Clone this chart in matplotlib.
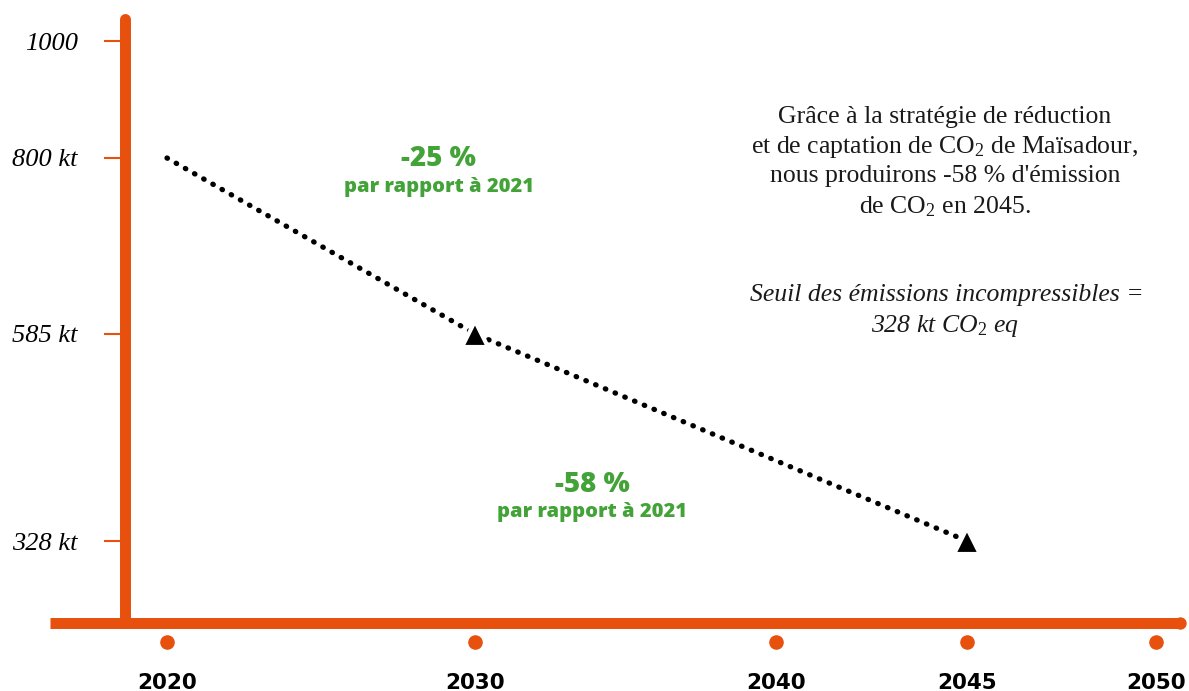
import numpy as np
import matplotlib
matplotlib.use("Agg")
import matplotlib.pyplot as plt

# -----------------------------
# Data
# -----------------------------
years = [2020, 2030, 2045]
emissions = [800, 585, 328]          # kt CO2
marker_years = [2030, 2045]
marker_values = [585, 328]

tick_years = [2020, 2030, 2040, 2045, 2050]
tick_kt = [328, 585, 800, 1000]
tick_kt_labels = ["328 kt", "585 kt", "800 kt", "1000"]

ORANGE = "#E8500E"
GREEN = "#43A338"
W, H = 1189, 691

plt.rcParams["mathtext.fontset"] = "custom"
plt.rcParams["mathtext.rm"] = "Liberation Serif"
plt.rcParams["mathtext.it"] = "Liberation Serif:italic"


# the source axes are not linear, so map values to pixels piecewise
def piecewise(src, dst):
    src = np.asarray(src, float)
    dst = np.asarray(dst, float)
    lo = (dst[1] - dst[0]) / (src[1] - src[0])
    hi = (dst[-1] - dst[-2]) / (src[-1] - src[-2])

    def f(v):
        v = np.asarray(v, float)
        out = np.interp(v, src, dst)
        out = np.where(v < src[0], dst[0] + (v - src[0]) * lo, out)
        out = np.where(v > src[-1], dst[-1] + (v - src[-1]) * hi, out)
        return out
    return f


x_pix = [167, 475, 776, 967, 1156]
y_pix = [H - 541, H - 334, H - 158, H - 41]
x_fwd, x_inv = piecewise(tick_years, x_pix), piecewise(x_pix, tick_years)
y_fwd, y_inv = piecewise(tick_kt, y_pix), piecewise(y_pix, tick_kt)

fig = plt.figure(figsize=(W / 100, H / 100), dpi=100)
left, right, bottom, top = 125, 1180, 623, 19
ax = fig.add_axes([left / W, 1 - bottom / H, (right - left) / W, (bottom - top) / H])
ax.set_xscale("function", functions=(x_fwd, x_inv))
ax.set_yscale("function", functions=(y_fwd, y_inv))
ax.set_xlim(float(x_inv(left)), float(x_inv(right)))
ax.set_ylim(float(y_inv(H - bottom)), float(y_inv(H - top)))

# axes look
for s in ["top", "right", "bottom"]:
    ax.spines[s].set_visible(False)
ax.spines["left"].set_color(ORANGE)
ax.spines["left"].set_linewidth(7.9)
ax.spines["left"].set_capstyle("round")

x0 = (50 - left) / (right - left)
ax.plot([x0, 1], [0, 0], color=ORANGE, lw=7.9, solid_capstyle="butt",
        transform=ax.transAxes, clip_on=False)
ax.plot([1], [0], "o", color=ORANGE, ms=7.9, transform=ax.transAxes, clip_on=False)

# year dots under the axis
dot_y = -(642 - bottom) / (bottom - top)
ax.scatter(tick_years, [dot_y] * len(tick_years), s=90, color=ORANGE,
           transform=ax.get_xaxis_transform(), clip_on=False, zorder=3)

ax.set_xticks(tick_years)
ax.set_xticklabels([str(y) for y in tick_years])
ax.tick_params(axis="x", length=0, pad=36, labelsize=15.5)
for lbl in ax.get_xticklabels():
    lbl.set_fontweight("bold")
    lbl.set_fontfamily("DejaVu Sans")

ax.set_yticks(tick_kt)
ax.set_yticklabels(tick_kt_labels)
ax.yaxis.set_minor_locator(matplotlib.ticker.NullLocator())
ax.xaxis.set_minor_locator(matplotlib.ticker.NullLocator())
ax.tick_params(axis="y", length=15, width=1.5, color=ORANGE, pad=19, labelsize=19)
for lbl in ax.get_yticklabels():
    lbl.set_fontfamily("Liberation Serif")
    lbl.set_fontstyle("italic")

# dotted trajectory and triangles
ax.plot(years, emissions, color="black", lw=3.8, linestyle=(0, (0.1, 1.9)),
        dash_capstyle="round", zorder=2)
ax.plot(marker_years, marker_values, "^", ms=19, color="black",
        mec="white", mew=3, zorder=3)


def ftext(x, y, s, **kw):
    fig.text(x / W, 1 - y / H, s, ha="center", va="center", **kw)


green = dict(color=GREEN, fontweight="heavy", family="Open Sans")
ftext(438, 158, "-25 %", fontsize=20, **green)
ftext(439, 187, "par rapport à 2021", fontsize=14.5, **green)
ftext(592, 484, "-58 %", fontsize=20, **green)
ftext(592, 512, "par rapport à 2021", fontsize=14.5, **green)

serif = dict(family="Liberation Serif", fontsize=18.5, color="#1a1a1a")
ftext(945, 117, "Grâce à la stratégie de réduction", **serif)
ftext(945, 147, "et de captation de CO$_2$ de Maïsadour,", **serif)
ftext(945, 176, "nous produirons -58 % d'émission", **serif)
ftext(945, 207, "de CO$_2$ en 2045.", **serif)
ftext(947, 295, "Seuil des émissions incompressibles =", style="italic", **serif)
ftext(945, 326, "328 kt CO$_2$ eq", style="italic", **serif)

fig.savefig("out.png", dpi=100)
